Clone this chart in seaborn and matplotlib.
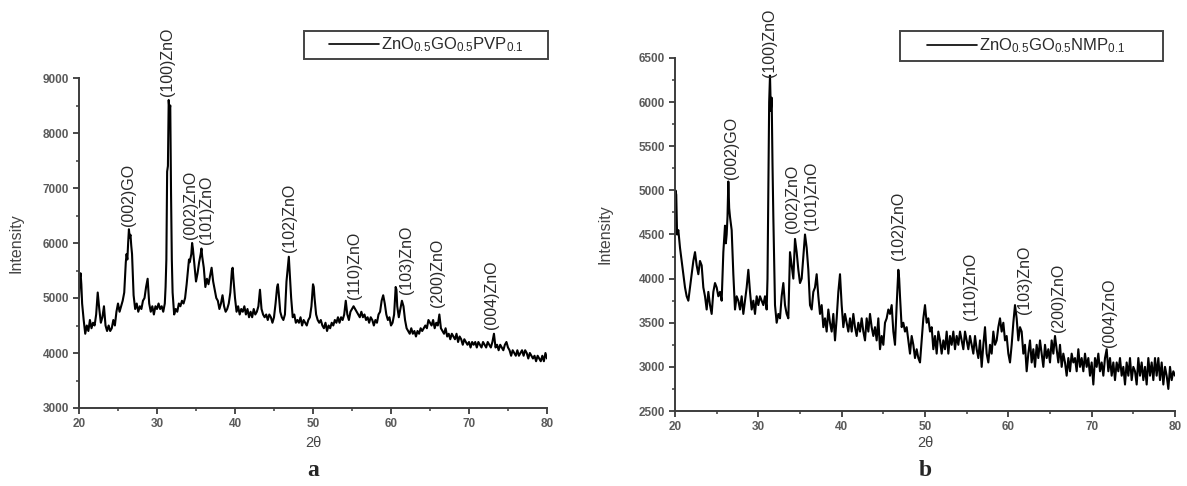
import matplotlib
matplotlib.use("Agg")
import matplotlib.pyplot as plt
from matplotlib.patches import Rectangle
from matplotlib.ticker import MultipleLocator
import seaborn as sns

# ---------------- panel a : ZnO0.5GO0.5PVP0.1 ----------------
two_theta_a = [
    20.0, 20.1, 20.2, 20.3, 20.4, 20.6, 20.8, 21.0, 21.2, 21.4, 21.6, 21.8, 22.0, 22.2, 22.4, 22.6, 22.8,
    23.0, 23.2, 23.4, 23.6, 23.8, 24.0, 24.2, 24.4, 24.6, 24.8, 25.0, 25.2, 25.4, 25.6, 25.8, 26.0, 26.1,
    26.2, 26.3, 26.4, 26.5, 26.6, 26.7, 26.8, 26.9, 27.0, 27.2, 27.4, 27.6, 27.8, 28.0, 28.2, 28.4, 28.6,
    28.8, 29.0, 29.2, 29.4, 29.6, 29.8, 30.0, 30.2, 30.4, 30.6, 30.8, 31.0, 31.1, 31.2, 31.3, 31.4, 31.5,
    31.6, 31.7, 31.8, 31.9, 32.0, 32.2, 32.4, 32.6, 32.8, 33.0, 33.2, 33.4, 33.6, 33.8, 34.0, 34.1, 34.2,
    34.4, 34.5, 34.6, 34.8, 35.0, 35.2, 35.4, 35.6, 35.7, 35.8, 36.0, 36.2, 36.4, 36.6, 36.8, 37.0, 37.2,
    37.4, 37.6, 37.8, 38.0, 38.2, 38.4, 38.6, 38.8, 39.0, 39.2, 39.4, 39.6, 39.7, 39.8, 40.0, 40.2, 40.4,
    40.6, 40.8, 41.0, 41.2, 41.4, 41.6, 41.8, 42.0, 42.2, 42.4, 42.6, 42.8, 43.0, 43.2, 43.4, 43.6, 43.8,
    44.0, 44.2, 44.4, 44.6, 44.8, 45.0, 45.2, 45.4, 45.5, 45.6, 45.8, 46.0, 46.2, 46.4, 46.6, 46.8, 46.9,
    47.0, 47.2, 47.4, 47.6, 47.8, 48.0, 48.2, 48.4, 48.6, 48.8, 49.0, 49.2, 49.4, 49.6, 49.8, 50.0, 50.1,
    50.2, 50.4, 50.6, 50.8, 51.0, 51.2, 51.4, 51.6, 51.8, 52.0, 52.2, 52.4, 52.6, 52.8, 53.0, 53.2, 53.4,
    53.6, 53.8, 54.0, 54.2, 54.4, 54.6, 54.8, 55.0, 55.2, 55.4, 55.6, 55.8, 56.0, 56.2, 56.4, 56.6, 56.8,
    57.0, 57.2, 57.4, 57.6, 57.8, 58.0, 58.2, 58.4, 58.6, 58.8, 59.0, 59.2, 59.4, 59.6, 59.8, 60.0, 60.2,
    60.4, 60.6, 60.7, 60.8, 61.0, 61.2, 61.4, 61.6, 61.8, 62.0, 62.2, 62.4, 62.6, 62.8, 63.0, 63.2, 63.4,
    63.6, 63.8, 64.0, 64.2, 64.4, 64.6, 64.8, 65.0, 65.2, 65.4, 65.6, 65.8, 66.0, 66.2, 66.4, 66.6, 66.8,
    67.0, 67.2, 67.4, 67.6, 67.8, 68.0, 68.2, 68.4, 68.6, 68.8, 69.0, 69.2, 69.4, 69.6, 69.8, 70.0, 70.2,
    70.4, 70.6, 70.8, 71.0, 71.2, 71.4, 71.6, 71.8, 72.0, 72.2, 72.4, 72.6, 72.8, 73.0, 73.2, 73.4, 73.6,
    73.8, 74.0, 74.2, 74.4, 74.6, 74.8, 75.0, 75.2, 75.4, 75.6, 75.8, 76.0, 76.2, 76.4, 76.6, 76.8, 77.0,
    77.2, 77.4, 77.6, 77.8, 78.0, 78.2, 78.4, 78.6, 78.8, 79.0, 79.2, 79.4, 79.6, 79.8, 80.0,
]
intensity_a = [
    5000, 5350, 5450, 5250, 4900, 4600, 4350, 4500, 4400, 4600, 4450, 4550, 4500, 4700, 5100, 4800, 4550,
    4650, 4850, 4500, 4400, 4500, 4400, 4450, 4600, 4500, 4750, 4900, 4750, 4850, 4950, 5100, 5650, 5800,
    5700, 6000, 6250, 6100, 6150, 5950, 5800, 5400, 5050, 4800, 4900, 4750, 4850, 4800, 4950, 5000, 5200,
    5350, 4900, 4750, 4850, 4700, 4850, 4800, 4900, 4800, 4850, 4750, 4900, 5200, 5700, 7300, 7400, 8600,
    8400, 8500, 6900, 5700, 5100, 4700, 4800, 4750, 4900, 4850, 4950, 4900, 5000, 5250, 5550, 5700, 5650,
    5800, 6000, 5900, 5600, 5300, 5450, 5650, 5800, 5900, 5750, 5550, 5200, 5350, 5250, 5400, 5550, 5300,
    5150, 5000, 4950, 4800, 4900, 5050, 4850, 4750, 4800, 4900, 5100, 5500, 5550, 5350, 5000, 4750, 4850,
    4700, 4800, 4750, 4850, 4700, 4800, 4650, 4750, 4650, 4800, 4700, 4750, 4850, 5150, 4800, 4700, 4650,
    4700, 4600, 4700, 4650, 4550, 4650, 4900, 5200, 5250, 5100, 4750, 4650, 4600, 4700, 5300, 5600, 5750,
    5500, 5000, 4650, 4700, 4550, 4600, 4550, 4650, 4500, 4600, 4550, 4500, 4600, 4650, 4850, 5250, 5200,
    5000, 4700, 4600, 4550, 4600, 4500, 4450, 4550, 4400, 4500, 4450, 4550, 4500, 4600, 4550, 4650, 4550,
    4650, 4600, 4700, 4950, 4700, 4600, 4750, 4800, 4850, 4800, 4750, 4700, 4650, 4750, 4650, 4700, 4600,
    4650, 4550, 4650, 4600, 4500, 4600, 4550, 4700, 4750, 4950, 5050, 4900, 4700, 4600, 4650, 4500, 4550,
    4700, 5200, 5150, 4850, 4650, 4800, 4950, 4850, 4600, 4450, 4400, 4350, 4450, 4350, 4400, 4300, 4400,
    4350, 4450, 4400, 4450, 4500, 4450, 4600, 4550, 4500, 4600, 4450, 4550, 4500, 4700, 4450, 4400, 4350,
    4450, 4300, 4350, 4250, 4350, 4300, 4250, 4350, 4200, 4300, 4250, 4150, 4250, 4200, 4150, 4200, 4100,
    4200, 4150, 4200, 4100, 4200, 4150, 4100, 4200, 4150, 4100, 4200, 4150, 4100, 4200, 4350, 4100, 4150,
    4050, 4150, 4100, 4050, 4150, 4200, 4100, 4050, 3950, 4050, 4000, 3950, 4050, 3950, 4000, 4050, 3950,
    4050, 4000, 3900, 4000, 3950, 3900, 3950, 3850, 3950, 3900, 3850, 3950, 3850, 4000, 3900,
]
labels_a = ["(002)GO", "(100)ZnO", "(002)ZnO", "(101)ZnO", "(102)ZnO",
            "(110)ZnO", "(103)ZnO", "(200)ZnO", "(004)ZnO"]
label_pos_a = [26.4, 31.3, 34.25, 36.4, 47.0, 55.35, 62.0, 66.0, 72.9]
label_base_a = [6310, 8680, 6070, 5980, 5830, 4980, 5070, 4830, 4430]

# ---------------- panel b : ZnO0.5GO0.5NMP0.1 ----------------
two_theta_b = [
    20.0, 20.05, 20.15, 20.25, 20.4, 20.6, 20.8, 21.0, 21.2, 21.4, 21.6, 21.8, 22.0, 22.2, 22.4, 22.6,
    22.8, 23.0, 23.2, 23.4, 23.6, 23.8, 24.0, 24.2, 24.4, 24.6, 24.8, 25.0, 25.2, 25.4, 25.6, 25.8, 26.0,
    26.1, 26.2, 26.3, 26.4, 26.5, 26.6, 26.8, 27.0, 27.2, 27.4, 27.6, 27.8, 28.0, 28.2, 28.4, 28.6, 28.8,
    29.0, 29.2, 29.4, 29.6, 29.8, 30.0, 30.2, 30.4, 30.6, 30.8, 31.0, 31.1, 31.2, 31.3, 31.4, 31.5, 31.6,
    31.7, 31.8, 31.9, 32.0, 32.2, 32.4, 32.6, 32.8, 33.0, 33.2, 33.4, 33.6, 33.8, 34.0, 34.2, 34.4, 34.6,
    34.8, 35.0, 35.2, 35.4, 35.6, 35.8, 36.0, 36.2, 36.4, 36.6, 36.8, 37.0, 37.2, 37.4, 37.6, 37.8, 38.0,
    38.2, 38.4, 38.6, 38.8, 39.0, 39.2, 39.4, 39.6, 39.8, 40.0, 40.2, 40.4, 40.6, 40.8, 41.0, 41.2, 41.4,
    41.6, 41.8, 42.0, 42.2, 42.4, 42.6, 42.8, 43.0, 43.2, 43.4, 43.6, 43.8, 44.0, 44.2, 44.4, 44.6, 44.8,
    45.0, 45.2, 45.4, 45.6, 45.8, 46.0, 46.2, 46.4, 46.6, 46.8, 46.9, 47.0, 47.2, 47.4, 47.6, 47.8, 48.0,
    48.2, 48.4, 48.6, 48.8, 49.0, 49.2, 49.4, 49.6, 49.8, 50.0, 50.2, 50.4, 50.6, 50.8, 51.0, 51.2, 51.4,
    51.6, 51.8, 52.0, 52.2, 52.4, 52.6, 52.8, 53.0, 53.2, 53.4, 53.6, 53.8, 54.0, 54.2, 54.4, 54.6, 54.8,
    55.0, 55.2, 55.4, 55.6, 55.8, 56.0, 56.2, 56.4, 56.6, 56.8, 57.0, 57.2, 57.4, 57.6, 57.8, 58.0, 58.2,
    58.4, 58.6, 58.8, 59.0, 59.2, 59.4, 59.6, 59.8, 60.0, 60.2, 60.4, 60.6, 60.8, 61.0, 61.2, 61.4, 61.6,
    61.8, 62.0, 62.2, 62.4, 62.6, 62.8, 63.0, 63.2, 63.4, 63.6, 63.8, 64.0, 64.2, 64.4, 64.6, 64.8, 65.0,
    65.2, 65.4, 65.6, 65.8, 66.0, 66.2, 66.4, 66.6, 66.8, 67.0, 67.2, 67.4, 67.6, 67.8, 68.0, 68.2, 68.4,
    68.6, 68.8, 69.0, 69.2, 69.4, 69.6, 69.8, 70.0, 70.2, 70.4, 70.6, 70.8, 71.0, 71.2, 71.4, 71.6, 71.8,
    72.0, 72.2, 72.4, 72.6, 72.8, 73.0, 73.2, 73.4, 73.6, 73.8, 74.0, 74.2, 74.4, 74.6, 74.8, 75.0, 75.2,
    75.4, 75.6, 75.8, 76.0, 76.2, 76.4, 76.6, 76.8, 77.0, 77.2, 77.4, 77.6, 77.8, 78.0, 78.2, 78.4, 78.6,
    78.8, 79.0, 79.2, 79.4, 79.6, 79.8, 80.0,
]
intensity_b = [
    4600, 5000, 4950, 4500, 4550, 4350, 4200, 4050, 3900, 3800, 3750, 3900, 4050, 4200, 4300, 4150,
    4050, 4200, 4150, 3900, 3800, 3650, 3850, 3700, 3600, 3850, 3950, 3900, 3800, 3850, 3750, 4300, 4600,
    4400, 4500, 4700, 5100, 4800, 4700, 4550, 4050, 3650, 3800, 3750, 3650, 3800, 3600, 3750, 3900, 4100,
    3850, 3650, 3750, 3600, 3800, 3700, 3800, 3750, 3700, 3800, 3650, 4000, 5000, 6000, 6300, 5900, 6050,
    5300, 4700, 4200, 3700, 3500, 3600, 3550, 3800, 3950, 3700, 3600, 3550, 4300, 4150, 4000, 4450, 4300,
    4100, 3950, 4000, 4250, 4500, 4350, 4100, 3700, 3650, 3850, 3900, 4050, 3800, 3600, 3700, 3450, 3550,
    3400, 3650, 3500, 3400, 3600, 3300, 3550, 3850, 4050, 3700, 3450, 3600, 3500, 3400, 3550, 3400, 3600,
    3450, 3350, 3500, 3400, 3550, 3400, 3300, 3550, 3400, 3600, 3450, 3350, 3450, 3300, 3550, 3200, 3350,
    3250, 3500, 3550, 3650, 3600, 3700, 3400, 3250, 3700, 4100, 4000, 3800, 3450, 3500, 3400, 3450, 3300,
    3150, 3350, 3250, 3100, 3200, 3100, 3050, 3300, 3550, 3700, 3500, 3550, 3400, 3450, 3200, 3350, 3150,
    3400, 3300, 3150, 3300, 3200, 3400, 3150, 3350, 3250, 3400, 3200, 3350, 3250, 3400, 3300, 3200, 3400,
    3300, 3200, 3350, 3250, 3150, 3350, 3200, 3100, 3300, 3000, 3250, 3450, 3150, 3050, 3250, 3150, 3400,
    3250, 3300, 3450, 3550, 3400, 3500, 3300, 3350, 3150, 3050, 3250, 3500, 3700, 3550, 3300, 3450, 3400,
    3150, 3250, 2950, 3150, 3300, 3050, 3200, 3000, 3250, 3100, 3300, 3150, 3000, 3250, 3100, 3200, 3050,
    3300, 3150, 3350, 3200, 3050, 3250, 3000, 3150, 3050, 2900, 3100, 2950, 3150, 3050, 3100, 2950, 3200,
    3000, 3100, 2950, 3150, 3000, 3100, 2900, 3050, 2800, 3100, 3000, 3150, 2950, 3050, 2900, 3100, 3200,
    2950, 3100, 2900, 3050, 2850, 3050, 2950, 3100, 2900, 3000, 2800, 3050, 2900, 3100, 2850, 3000, 2950,
    2800, 3100, 2900, 3050, 2850, 3000, 2800, 3100, 2900, 3050, 2850, 3100, 2900, 3100, 2850, 3050, 2800,
    3000, 2900, 2750, 3000, 2850, 2950, 2900,
]
labels_b = ["(002)GO", "(100)ZnO", "(002)ZnO", "(101)ZnO", "(102)ZnO",
            "(110)ZnO", "(103)ZnO", "(200)ZnO", "(004)ZnO"]
label_pos_b = [26.75, 31.34, 34.1, 36.4, 46.8, 55.45, 61.9, 66.0, 72.1]
label_base_b = [5124, 6283, 4515, 4553, 4211, 3527, 3603, 3394, 3222]

sns.set_theme(style="ticks")
plt.rcParams["font.family"] = ["Liberation Sans", "DejaVu Sans"]
plt.rcParams["mathtext.default"] = "regular"

W, H = 1187, 486
AXIS_COLOR = "#3c3c3c"
TICK_COLOR = "#5a5a5a"


def fx(px):
    return px / W


def fy(py):
    return 1 - py / H


def draw_panel(ax, x, y, legend_text, labels, pos, base, ylim, ystep,
               ylabel_x, legend_box, line_start):
    sns.lineplot(x=x, y=y, ax=ax, color="black", linewidth=1.5,
                 estimator=None, sort=False, label=legend_text)
    ax.set_xlim(20, 80)
    ax.set_ylim(*ylim)
    ax.xaxis.set_major_locator(MultipleLocator(10))
    ax.xaxis.set_minor_locator(MultipleLocator(5))
    ax.yaxis.set_major_locator(MultipleLocator(ystep))
    ax.yaxis.set_minor_locator(MultipleLocator(ystep / 2))
    for side in ("top", "right"):
        ax.spines[side].set_visible(False)
    for side in ("left", "bottom"):
        ax.spines[side].set_color(AXIS_COLOR)
        ax.spines[side].set_linewidth(1.4)
    ax.tick_params(which="major", direction="out", length=4, width=1.3,
                   color=AXIS_COLOR, labelsize=8.5, labelcolor=TICK_COLOR, pad=3)
    ax.tick_params(which="minor", direction="out", length=2.5, width=1.1,
                   color=AXIS_COLOR)
    for lab in ax.get_xticklabels() + ax.get_yticklabels():
        lab.set_fontweight("bold")

    # x label placed in figure pixels so both panels line up
    ax.set_xlabel("")
    fig.text(ax.get_position().x0 + ax.get_position().width / 2, fy(443), "2θ",
             ha="center", va="center", fontsize=10.5, color="#444444")
    ax.set_ylabel("Intensity", fontsize=11.5, color="#444444")
    ax.yaxis.set_label_coords(ylabel_x, 0.5)

    for name, px, py in zip(labels, pos, base):
        ax.text(px, py, name, rotation=90, ha="center", va="bottom",
                fontsize=11.5, color="#2a2a2a", clip_on=False)

    # legend entry without its own frame, framed by a box like the original
    bx0, by0, bx1, by1 = legend_box
    leg = ax.legend(loc="center left",
                    bbox_to_anchor=(fx(line_start), fy((by0 + by1) / 2)),
                    bbox_transform=fig.transFigure, borderaxespad=0,
                    borderpad=0, frameon=False, fontsize=12,
                    handlelength=3.0, handletextpad=0.1, labelcolor="#2a2a2a")
    leg.get_lines()[0].set_linewidth(1.2)
    fig.patches.append(Rectangle((fx(bx0), fy(by1)), fx(bx1) - fx(bx0),
                                 fy(by0) - fy(by1), transform=fig.transFigure,
                                 fill=False, edgecolor="#444444", linewidth=1.4))


fig = plt.figure(figsize=(11.87, 4.86), dpi=100)
ax_a = fig.add_axes([fx(79), fy(408), fx(547) - fx(79), fy(78) - fy(408)])
ax_b = fig.add_axes([fx(675), fy(411), fx(1175) - fx(675), fy(58) - fy(411)])

draw_panel(ax_a, two_theta_a, intensity_a, r"ZnO$_{0.5}$GO$_{0.5}$PVP$_{0.1}$",
           labels_a, label_pos_a, label_base_a, (3000, 9000), 1000,
           -0.118, (304, 31, 548, 59), 329)
draw_panel(ax_b, two_theta_b, intensity_b, r"ZnO$_{0.5}$GO$_{0.5}$NMP$_{0.1}$",
           labels_b, label_pos_b, label_base_b, (2500, 6500), 500,
           -0.125, (900, 31, 1163, 61), 927)

fig.text(fx(313), fy(470), "a", ha="center", va="center", fontsize=17,
         fontweight="bold", family="Liberation Serif")
fig.text(fx(925), fy(470), "b", ha="center", va="center", fontsize=17,
         fontweight="bold", family="Liberation Serif")

fig.savefig("out.png", dpi=100)
